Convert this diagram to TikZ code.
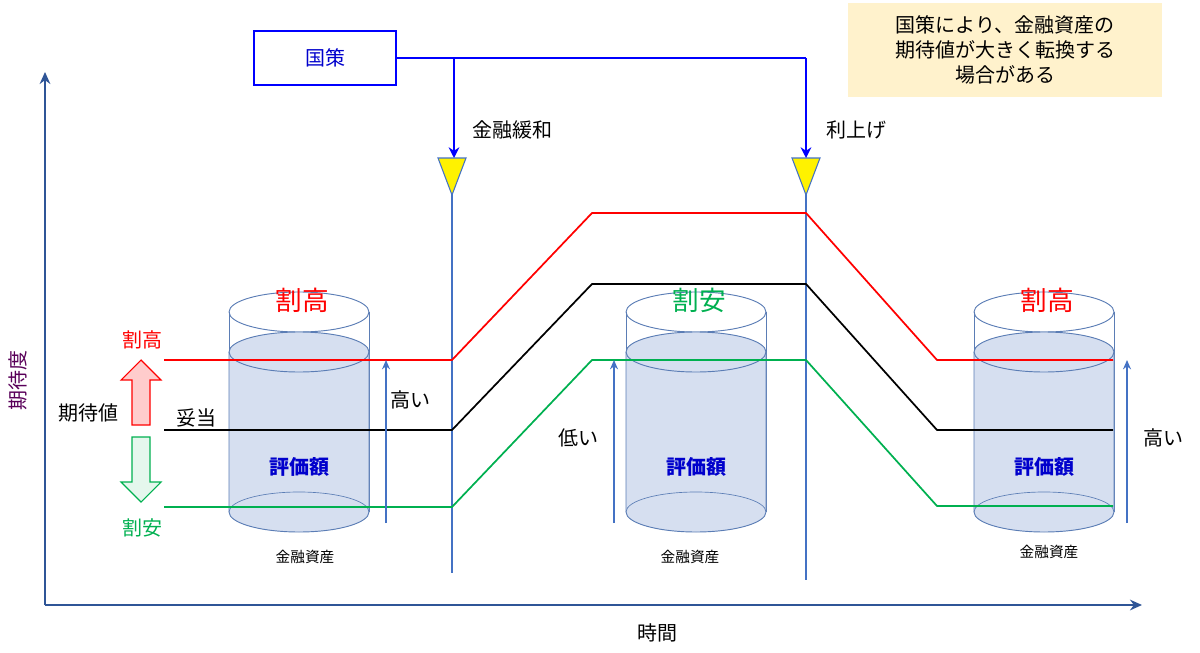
\documentclass[tikz,border=0pt]{standalone}
\usepackage{fontspec}
\setmainfont{Noto Sans CJK JP}
\usetikzlibrary{arrows.meta}
\definecolor{ax}{HTML}{2F5597}
\definecolor{ln}{HTML}{4472C4}
\definecolor{cyl}{HTML}{D6DFF0}
\definecolor{cyle}{HTML}{5B7DB5}
\definecolor{note}{HTML}{FFF2CC}
\definecolor{gr}{HTML}{00B050}
\begin{document}
\begin{tikzpicture}[x=0.75pt,y=-0.75pt,
 lab/.style={font=\fontsize{15}{17}\selectfont,inner sep=0pt},
 big/.style={font=\fontsize{20}{22}\selectfont,inner sep=0pt},
 small/.style={font=\fontsize{11}{12}\selectfont,inner sep=0pt},
 val/.style={font=\fontsize{15}{17}\selectfont\bfseries,text=blue!80!black,inner sep=0pt},
 vl/.style={ln,line width=1.3pt},
 tri/.style={fill=yellow,draw=ln,line width=0.8pt}]
\useasboundingbox (0,0) rectangle (1200,653);
% note
\node[fill=note,minimum width=314*0.75pt,minimum height=94*0.75pt,align=center,lab,font=\fontsize{15}{19}\selectfont] (note) at (1005,50) {国策により、金融資産の\\期待値が大きく転換する\\場合がある};
% axes
\coordinate (o) at (45,605);
\coordinate (ytop) at (45,72);
\coordinate (xend) at (1142,605);
\draw[ax,line width=1.5pt,-{Stealth[length=9pt,width=8pt]}] (o) -- (ytop);
\draw[ax,line width=1.5pt,-{Stealth[length=9pt,width=8pt]}] (o) -- (xend);
\node[lab,text=violet!70!black,rotate=90] (yl) at (18,380) {期待度};
\node[lab] (xl) at (657,633) {時間};
% cylinders
\foreach \cx/\t/\tc/\lx/\ly in {299/割高/red/305/557, 696/割安/gr/690/557, 1044/割高/red/1049/552}{
 \draw[cyle,line width=0.7pt] (\cx-70,312) -- (\cx-70,512) (\cx+70,312) -- (\cx+70,512);
 \draw[cyle,line width=0.7pt] (\cx,312) ellipse [x radius=70,y radius=20];
 \fill[cyl] (\cx-70,352) -- (\cx-70,512) arc[start angle=180,end angle=0,x radius=70,y radius=20] -- (\cx+70,352) arc[start angle=0,end angle=-180,x radius=70,y radius=20];
 \draw[cyle,line width=0.7pt] (\cx-70,352) -- (\cx-70,512) arc[start angle=180,end angle=0,x radius=70,y radius=20] -- (\cx+70,352);
 \draw[cyle,line width=0.7pt] (\cx,352) ellipse [x radius=70,y radius=20];
 \draw[cyle,line width=0.5pt] (\cx-70,512) arc[start angle=180,end angle=360,x radius=70,y radius=20];
 \node[big,text=\tc] at (\cx+3,300) {\t};
 \node[val] at (\cx,467) {評価額};
 \node[small] at (\lx,\ly) {金融資産};
}
% vertical lines
\coordinate (v1t) at (452,190); \coordinate (v1b) at (452,573);
\coordinate (v2t) at (806,190); \coordinate (v2b) at (806,580);
\draw[vl] (v1t) -- (v1b);
\draw[vl] (v2t) -- (v2b);
% expectation lines
\draw[red,line width=1.3pt] (164,360) -- (452,360) -- (592,213) -- (806,213) -- (937,360) -- (1113,360);
\draw[black,line width=1.3pt] (164,430) -- (452,430) -- (592,284) -- (806,284) -- (937,430) -- (1113,430);
\draw[gr,line width=1.3pt] (164,507) -- (452,507) -- (592,360) -- (806,360) -- (937,506) -- (1113,506);
% triangles
\draw[tri] (438,158) -- (466,158) -- (452,195) -- cycle;
\draw[tri] (792,158) -- (820,158) -- (806,195) -- cycle;
% policy box
\node[draw=blue,line width=1.5pt,minimum width=142*0.75pt,minimum height=54*0.75pt,lab,text=blue!80!black] (kb) at (325,58) {国策};
\coordinate (j1) at (454,58); \coordinate (j2) at (806,58);
\coordinate (a1) at (454,158); \coordinate (a2) at (806,158);
\draw[blue,line width=1.5pt] (kb.east) -- (j2);
\draw[blue,line width=1.5pt,-{Stealth[length=8pt,width=8pt]}] (j1) -- (a1);
\draw[blue,line width=1.5pt,-{Stealth[length=8pt,width=8pt]}] (j2) -- (a2);
\node[lab] at (512,130) {金融緩和};
\node[lab] at (856,130) {利上げ};
% blue up arrows
\foreach \x in {386,614,1127}{
 \draw[ln,line width=1.5pt,-{Stealth[length=7pt,width=6pt]}] (\x,523) -- (\x,360);}
\node[lab] at (410,400) {高い};
\node[lab] at (578,438) {低い};
\node[lab] at (1163,438) {高い};
% left arrows and labels
\draw[red,fill=red!20,line width=0.8pt] (132,425) -- (132,380) -- (121,380) -- (141,360) -- (161,380) -- (150,380) -- (150,425) -- cycle;
\draw[gr,fill=gr!10,line width=0.8pt] (132,437) -- (132,482) -- (121,482) -- (141,502) -- (161,482) -- (150,482) -- (150,437) -- cycle;
\node[lab,text=red] at (142,340) {割高};
\node[lab] at (88,413) {期待値};
\node[lab] at (196,418) {妥当};
\node[lab,text=gr] at (142,528) {割安};
\end{tikzpicture}
\end{document}
